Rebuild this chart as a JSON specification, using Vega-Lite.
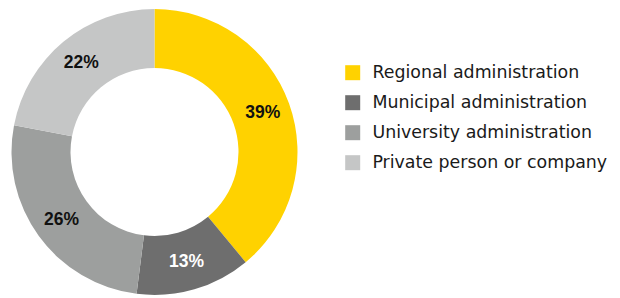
{
  "$schema": "https://vega.github.io/schema/vega-lite/v6.json",
  "width": 309,
  "height": 292,
  "autosize": "none",
  "padding": {"top": 6, "left": 0, "right": 311, "bottom": 0},
  "background": "white",
  "data": {
    "values": [
      {"category": "Regional administration", "share": 0.39, "idx": 1},
      {"category": "Municipal administration", "share": 0.13, "idx": 2},
      {"category": "University administration", "share": 0.26, "idx": 3},
      {"category": "Private person or company", "share": 0.22, "idx": 4}
    ]
  },
  "encoding": {
    "theta": {"field": "share", "type": "quantitative", "stack": true},
    "order": {"field": "idx", "type": "quantitative"}
  },
  "layer": [
    {
      "mark": {"type": "arc", "outerRadius": 143, "innerRadius": 84},
      "encoding": {
        "color": {
          "field": "category",
          "type": "nominal",
          "sort": ["Regional administration", "Municipal administration", "University administration", "Private person or company"],
          "scale": {
            "domain": ["Regional administration", "Municipal administration", "University administration", "Private person or company"],
            "range": ["#FFD200", "#6E6E6E", "#9D9F9E", "#C5C6C6"]
          },
          "legend": {
            "title": null,
            "orient": "none",
            "legendX": 344,
            "legendY": 58,
            "symbolType": "square",
            "symbolSize": 225,
            "symbolStrokeWidth": 0,
            "labelFont": "DejaVu Sans",
            "labelFontSize": 17.4,
            "labelColor": "#1a1a1a",
            "labelOffset": 11,
            "rowPadding": 11,
            "labelLimit": 300
          }
        }
      }
    },
    {
      "mark": {"type": "text", "radius": 115, "font": "Liberation Sans", "fontWeight": "bold", "fontSize": 17.5},
      "encoding": {
        "text": {"field": "share", "type": "quantitative", "format": ".0%"},
        "color": {
          "condition": {"test": "datum.category === 'Municipal administration'", "value": "white"},
          "value": "#111111"
        }
      }
    }
  ]
}
